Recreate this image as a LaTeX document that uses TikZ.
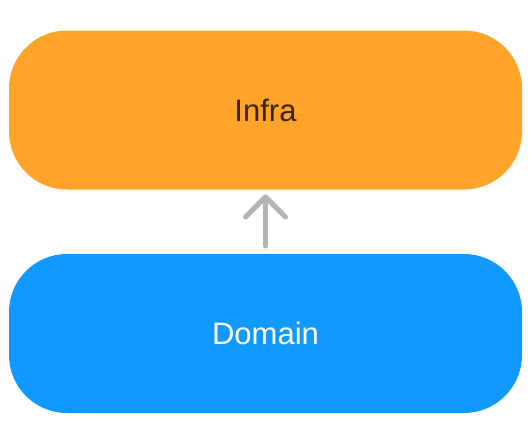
\documentclass[tikz,border=0pt]{standalone}
\usepackage{fontspec}
\setmainfont{Liberation Sans}
\definecolor{infraorange}{HTML}{FFA428}
\definecolor{domainblue}{HTML}{1199FF}
\definecolor{infratext}{HTML}{3A2400}
\definecolor{arrowgray}{HTML}{B4B4B4}
\begin{document}
\begin{tikzpicture}[x=1pt,y=-1pt,
  layerbox/.style={rounded corners=58pt, minimum width=513pt, minimum height=159pt, inner sep=0pt, font=\fontsize{31}{36}\selectfont},
  dep/.style={draw=arrowgray, line width=5pt, line cap=round, line join=round}]
\useasboundingbox (0,0) rectangle (531,421);
\node[layerbox, fill=infraorange, text=infratext] (infra) at (265.5,110) {Infra};
\node[layerbox, fill=domainblue, text=white] (domain) at (265.5,333.5) {Domain};
\coordinate (tip) at (265.5,197);
\coordinate (tail) at (265.5,246);
\draw[dep] (tail) -- (tip);
\draw[dep] ([xshift=-20pt,yshift=-20pt]tip) -- (tip) -- ([xshift=20pt,yshift=-20pt]tip);
\end{tikzpicture}
\end{document}
